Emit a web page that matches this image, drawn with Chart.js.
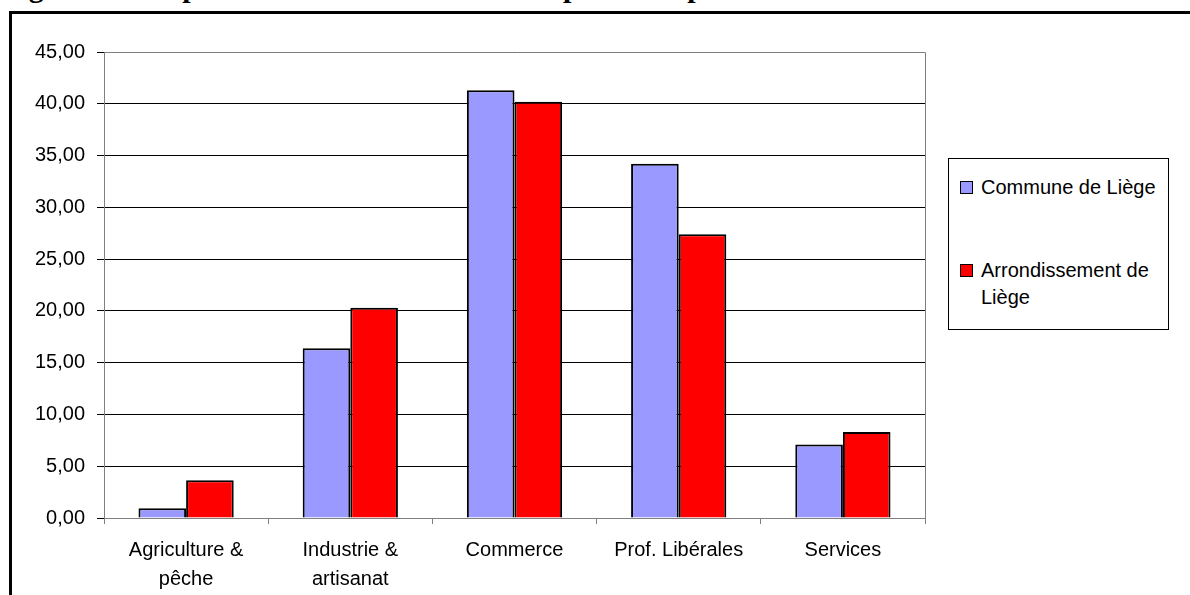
<!DOCTYPE html>
<html>
<head>
<meta charset="utf-8">
<script src="https://cdn.jsdelivr.net/npm/chart.js@4.4.1/dist/chart.umd.min.js"></script>
<style>
  html, body { margin: 0; padding: 0; background: #fff; overflow: hidden; }
  #wrap { position: relative; width: 1190px; height: 595px; overflow: hidden; }
  #title { position: absolute; left: 2px; top: -28px; font: bold 30px "Liberation Serif", "Times New Roman", serif; line-height: 30px; white-space: nowrap; color: #000; }
  #frame { position: absolute; left: 9px; top: 11px; width: 1200px; height: 600px; border-left: 3px solid #000; border-top: 3px solid #000; background: #fff; }
  #c { position: absolute; left: 0; top: 0; }
  #legend { position: absolute; left: 948px; top: 158px; width: 219px; height: 170px; border: 1px solid #000; background: #fff; font: 20px "Liberation Sans", Arial, sans-serif; color: #000; }
  .item { position: absolute; left: 11px; }
  .sw { position: absolute; left: 0; width: 11px; height: 11px; border: 1px solid #000; }
  .lbl { position: absolute; left: 21px; width: 185px; line-height: 27px; }
</style>
</head>
<body>
<div id="wrap">
  <div id="title">Figure 11 : Répartition des travailleurs indépendants par secteur d'activités</div>
  <div id="frame"></div>
  <canvas id="c" width="1190" height="595"></canvas>
  <div id="legend"></div>
</div>
<script>
const categories = [
  ["Agriculture &", "pêche"],
  ["Industrie &", "artisanat"],
  ["Commerce"],
  ["Prof. Libérales"],
  ["Services"]
];
const seriesNames = ["Commune de Liège", "Arrondissement de Liège"];
const communeValues = [0.95, 16.4, 41.3, 34.2, 7.1];
const arrondissementValues = [3.65, 20.3, 40.2, 27.4, 8.3];
const seriesColors = ["#9999FF", "#FF0000"];
const yTickValues = [0, 5, 10, 15, 20, 25, 30, 35, 40, 45];

const fontFamily = '"Liberation Sans", Arial, sans-serif';

const plotBorder = {
  id: 'plotBorder',
  afterDraw(chart) {
    const a = chart.chartArea, ctx = chart.ctx;
    ctx.save();
    ctx.strokeStyle = '#808080';
    ctx.lineWidth = 1;
    ctx.beginPath();
    ctx.moveTo(a.left, a.top + 0.5);
    ctx.lineTo(a.right + 0.5, a.top + 0.5);
    ctx.lineTo(a.right + 0.5, a.bottom);
    ctx.stroke();
    ctx.restore();
  }
};

new Chart(document.getElementById('c'), {
  type: 'bar',
  data: {
    labels: categories,
    datasets: [
      { label: seriesNames[0], data: communeValues, backgroundColor: seriesColors[0], borderColor: '#000', borderWidth: 2 },
      { label: seriesNames[1], data: arrondissementValues, backgroundColor: seriesColors[1], borderColor: '#000', borderWidth: 2 }
    ]
  },
  options: {
    responsive: false,
    animation: false,
    events: [],
    layout: { padding: { left: 0, right: 265, top: 52, bottom: 0 } },
    datasets: { bar: { categoryPercentage: 0.58, barPercentage: 1.0 } },
    plugins: { legend: { display: false }, tooltip: { enabled: false }, title: { display: false } },
    scales: {
      x: {
        grid: { display: true, offset: true, drawOnChartArea: false, drawTicks: true, tickLength: 6, color: '#808080', lineWidth: 1 },
        border: { display: true, color: '#808080', width: 1 },
        ticks: { color: '#000', font: { family: fontFamily, size: 20, lineHeight: 1.45 }, padding: 12, maxRotation: 0, autoSkip: false },
        afterFit(s) { s.height = 77; }
      },
      y: {
        min: 0, max: 45,
        afterBuildTicks(s) { s.ticks = yTickValues.map(v => ({ value: v })); },
        grid: { color: '#000', lineWidth: 1, tickLength: 7, drawTicks: true },
        border: { display: true, color: '#808080', width: 1 },
        ticks: {
          color: '#000', font: { family: fontFamily, size: 20 }, padding: 12,
          callback: v => Number(v).toFixed(2).replace('.', ',')
        },
        afterFit(s) { s.width = 104; }
      }
    }
  },
  plugins: [plotBorder]
});

// HTML legend built from the series names/colours
const legend = document.getElementById('legend');
const tops = [15, 98];
seriesNames.forEach((name, i) => {
  const it = document.createElement('div');
  it.className = 'item';
  it.style.top = tops[i] + 'px';
  const sw = document.createElement('div');
  sw.className = 'sw';
  sw.style.background = seriesColors[i];
  sw.style.top = '7px';
  const lb = document.createElement('div');
  lb.className = 'lbl';
  lb.textContent = name;
  if (i === 0) lb.style.whiteSpace = 'nowrap';
  it.appendChild(sw); it.appendChild(lb);
  legend.appendChild(it);
});
</script>
</body>
</html>
